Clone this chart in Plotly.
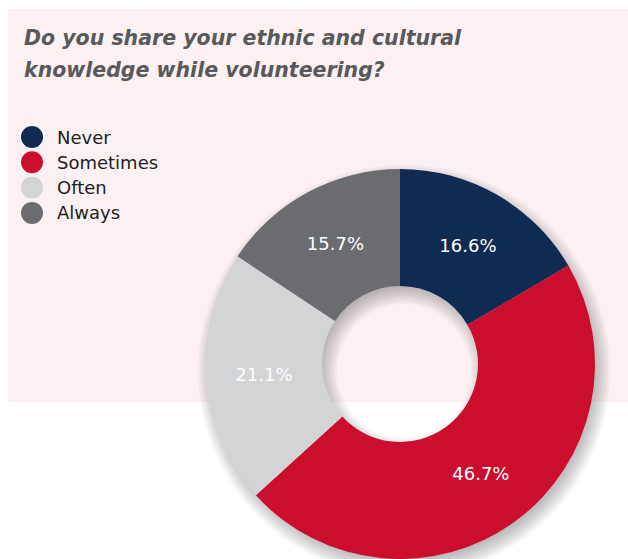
import numpy as np
import plotly.graph_objects as go

# Survey answers
categories = ["Never", "Sometimes", "Often", "Always"]
shares = [16.6, 46.7, 21.1, 15.7]
colors = ["#0f2b52", "#cc0e2e", "#d3d4d6", "#6b6c70"]
title_lines = ["Do you share your ethnic and cultural",
               "knowledge while volunteering?"]

W, H = 628, 559
FONT = "DejaVu Sans"

# Donut geometry (pixels)
cx, cy, R = 400, 364, 195
HOLE = 0.4


def px(x):
    return x / W


def py(y):
    return (H - y) / H


def ring_path(x0, y0, r_out, r_in, n=160):
    """SVG path of an annulus in paper coords (outer cw, inner ccw)."""
    t = np.linspace(0, 2 * np.pi, n, endpoint=False)
    outer = [(px(x0 + r_out * np.cos(a)), py(y0 + r_out * np.sin(a))) for a in t]
    inner = [(px(x0 + r_in * np.cos(a)), py(y0 + r_in * np.sin(a))) for a in t[::-1]]
    seg = lambda pts: "M" + "L".join(f"{x:.5f},{y:.5f}" for x, y in pts) + "Z"
    return seg(outer) + seg(inner)


shapes = [dict(type="rect", xref="paper", yref="paper", layer="below",
               x0=px(8), x1=1, y0=py(402), y1=py(9),
               fillcolor="#fbf1f2", line=dict(width=0))]

# soft drop shadow: stacked translucent rings approximate a blur
sx, sy = cx + 4, cy + 7
spread = np.linspace(-11, 11, 12)
alpha = 0.04
for d in spread:
    shapes.append(dict(type="path", xref="paper", yref="paper", layer="below",
                       path=ring_path(sx, sy, R + d, R * HOLE - d),
                       fillcolor=f"rgba(60,55,60,{alpha})", line=dict(width=0)))

fig = go.Figure(go.Pie(
    labels=categories, values=shares, hole=HOLE,
    sort=False, direction="clockwise", rotation=0,
    domain=dict(x=[px(cx - R), px(cx + R)], y=[max(0, py(cy + R)), py(cy - R)]),
    marker=dict(colors=colors, line=dict(width=0)),
    texttemplate="%{value:.1f}%", textposition="inside",
    insidetextorientation="horizontal",
    textfont=dict(family=FONT, size=18, color="white"),
    hoverinfo="label+value", showlegend=False,
))

annotations = []

# title, two lines
for i, line in enumerate(title_lines):
    yc = 38 + 32 * i
    annotations.append(dict(
        text=f"<b><i>{line}</i></b>", xref="paper", yref="paper",
        x=px(22), y=py(yc), xanchor="left", yanchor="middle",
        showarrow=False, font=dict(family=FONT, size=20.5, color="#58595b")))

# legend with round markers
for i, (lab, col) in enumerate(zip(categories, colors)):
    yc = 137 + 25.3 * i
    rr = 11
    shapes.append(dict(type="circle", xref="paper", yref="paper",
                       x0=px(32 - rr), x1=px(32 + rr),
                       y0=py(yc + rr), y1=py(yc - rr),
                       fillcolor=col, line=dict(width=0)))
    annotations.append(dict(
        text=lab, xref="paper", yref="paper", x=px(55), y=py(yc),
        xanchor="left", yanchor="middle", showarrow=False,
        font=dict(family=FONT, size=18, color="#1e1e1e")))

fig.update_layout(
    width=W, height=H, margin=dict(l=0, r=0, t=0, b=0),
    paper_bgcolor="white", plot_bgcolor="white",
    shapes=shapes, annotations=annotations, showlegend=False,
)

fig.write_html("out.html")
